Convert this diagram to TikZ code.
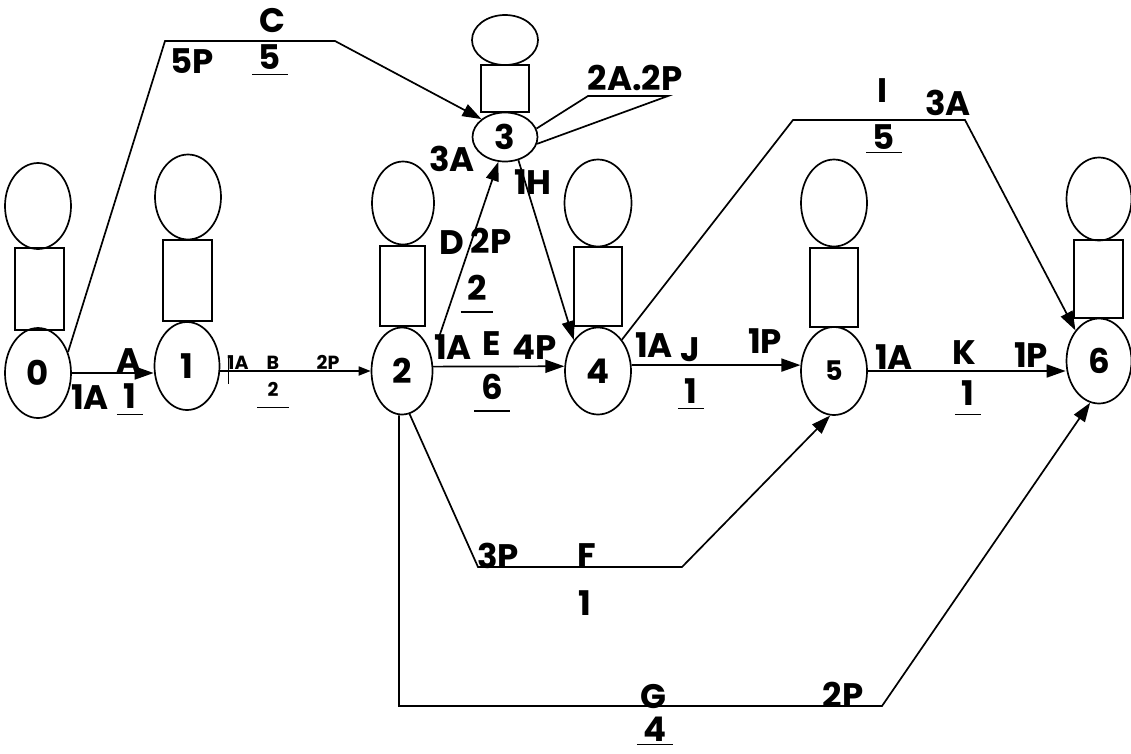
\documentclass[tikz,border=0pt]{standalone}
\usepackage{fontspec}
\setmainfont{Poppins}
\usetikzlibrary{arrows.meta,shapes.geometric}
\begin{document}
\begin{tikzpicture}[x=1pt,y=-1pt,
  every node/.style={font=\fontsize{34}{37}\selectfont\bfseries, inner sep=0pt},
  ev/.style 2 args={draw,ellipse,line width=1.7pt,minimum width=#1,minimum height=#2,inner sep=0pt},
  bx/.style 2 args={draw,rectangle,line width=1.7pt,minimum width=#1,minimum height=#2,inner sep=0pt},
  small/.style={font=\fontsize{19}{21}\selectfont\bfseries},
  ul/.style={inner xsep=6.5pt,inner ysep=#1,
    append after command={(\tikzlastnode.south west) edge[line width=1.5pt] (\tikzlastnode.south east)}},
  ln/.style={line width=1.7pt},
  arr/.style={-{Triangle[length=19pt,width=13pt]}},
  sarr/.style={-{Triangle[length=12pt,width=9pt]}}]
\useasboundingbox (0,0) rectangle (1131,753);
% events
\node[ev={66}{90}] (n0) at (38,373) {0};
\node[bx={49}{82}] (r0) at (39.5,289) {};
\node[ev={66}{86}] (t0) at (38,206) {};
\node[ev={65}{88}] (n1) at (187,366) {1};
\node[bx={49}{81}] (r1) at (187.5,280.5) {};
\node[ev={66}{85}] (t1) at (188,197) {};
\node[ev={61}{87}] (n2) at (402,371) {2};
\node[bx={45}{80}] (r2) at (402.5,286) {};
\node[ev={62}{83}] (t2) at (403,203) {};
\node[ev={65}{49}] (n3) at (505,137) {3};
\node[bx={48}{47}] (r3) at (505,88.5) {};
\node[ev={66}{50}] (t3) at (505,40) {};
\node[ev={66}{87}] (n4) at (598,371) {4};
\node[bx={48}{79}] (r4) at (598,286.5) {};
\node[ev={67}{87}] (t4) at (598,203) {};
\node[ev={66}{88},font=\fontsize{27}{30}\selectfont\bfseries] (n5) at (834,371) {5};
\node[bx={48}{79}] (r5) at (834,287.5) {};
\node[ev={66}{87}] (t5) at (834,203) {};
\node[ev={65}{85}] (n6) at (1099,361) {6};
\node[bx={49}{78}] (r6) at (1098.5,279) {};
\node[ev={65}{83}] (t6) at (1099,199) {};
% bend points
\coordinate (c1) at (165,41);
\coordinate (c2) at (335,41);
\coordinate (i1) at (793,120);
\coordinate (i2) at (965,120);
\coordinate (f1) at (478,567);
\coordinate (f2) at (682,567);
\coordinate (g1) at (399,706);
\coordinate (g2) at (882,706);
\coordinate (u1) at (588,96);
\coordinate (u2) at (668,96);
% activities
\draw[ln,arr] (n0.35) -- (c1) -- (c2) -- (n3.north west);
\draw[ln,arr] (n0.east) -- (n0.east -| n1.west);
\draw[ln,sarr] (n1.east |- n2.west) -- (n2.west);
\draw[ln] ([xshift=8pt,yshift=13pt]n1.east |- n2.west) -- ++(0,26);
\draw[ln,arr] ([xshift=14pt]n2.north east) -- (n3.255);
\draw[ln,arr] (n3.300) -- (n4.128);
\draw[ln,arr] (n2.8) -- (n4.172);
\draw[ln,arr] (n4.10) -- (n5.170);
\draw[ln,arr] (n5.east) -- (n5.east -| n6.west);
\draw[ln,arr] (n4.north east) -- (i1) -- (i2) -- (n6.north west);
\draw[ln,arr] (n2.-80) -- (f1) -- (f2) -- (n5.-95);
\draw[ln,arr] (n2.south -| g1) -- (g1) -- (g2) -- (n6.-102);
\draw[ln] (n3.15) -- (u1) -- (u2) -- (n3.-12);
% labels
\node (lA) at (129,361) {A};
\node (lA1) at (90,397) {1A};
\node[ul=6pt] (lA2) at (130,396) {1};
\node[small] (lB1) at (238,363) {1A};
\node[small] (lB) at (273,363) {B};
\node[small] (lB2) at (328,362) {2P};
\node[small,ul=11pt,inner xsep=10pt] (lB3) at (273,389) {2};
\node (lC) at (272,21) {C};
\node (lC1) at (192,61) {5P};
\node[ul=5pt] (lC2) at (270,57) {5};
\node (lD) at (452,243) {D};
\node (lD1) at (491,241) {2P};
\node[ul=11pt] (lD2) at (477,288) {2};
\node (lD3) at (452,159) {3A};
\node (lH) at (533,182) {1H};
\node (l2a) at (635,78) {2A.2P};
\node (lE1) at (453,347) {1A};
\node (lE) at (492,344) {E};
\node (lE2) at (535,347) {4P};
\node[ul=11pt] (lE3) at (492,387) {6};
\node (lJ1) at (654,345) {1A};
\node (lJ) at (690,350) {J};
\node (lJ2) at (765,341) {1P};
\node[ul=5pt] (lJ3) at (691,391) {1};
\node (lK1) at (894,357) {1A};
\node (lK) at (964,353) {K};
\node (lK2) at (1031,355) {1P};
\node[ul=9pt] (lK3) at (968,393) {1};
\node (lI) at (883,91) {I};
\node (lI1) at (948,103) {3A};
\node[ul=3pt] (lI2) at (884,137) {5};
\node (lF1) at (498,556) {3P};
\node (lF) at (587,556) {F};
\node (lF2) at (585,603) {1};
\node (lG) at (653,697) {G};
\node (lG1) at (843,695) {2P};
\node[ul=3pt] (lG2) at (655,729) {4};
\end{tikzpicture}
\end{document}
